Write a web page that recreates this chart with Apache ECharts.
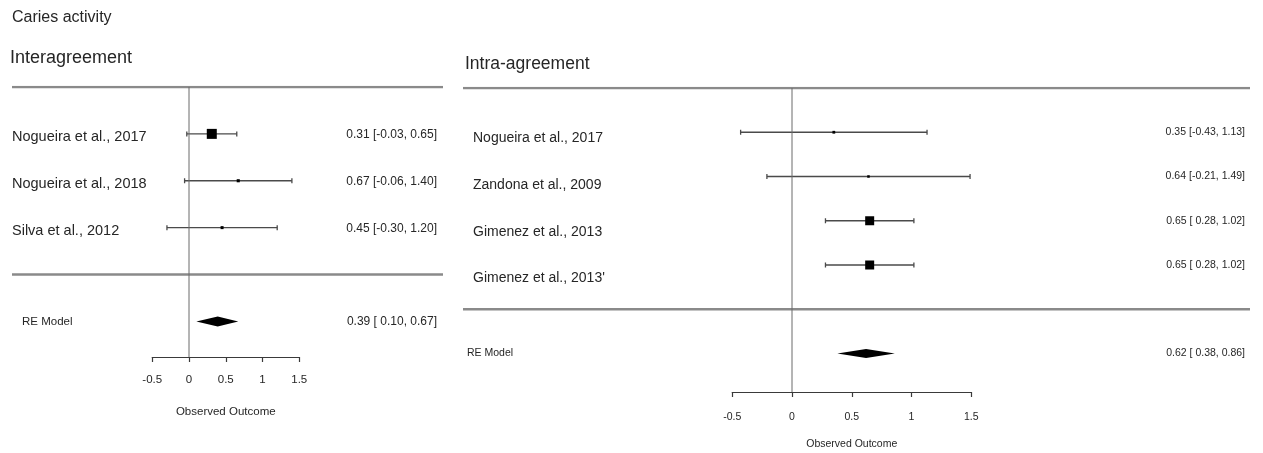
<!DOCTYPE html>
<html>
<head>
<meta charset="utf-8">
<script src="https://cdn.jsdelivr.net/npm/echarts@6/dist/echarts.min.js"></script>
<style>
  html, body { margin: 0; padding: 0; background: #fff; }
  #chart { width: 1263px; height: 453px; }
</style>
</head>
<body>
<div id="chart"></div>
<script>
// Caries activity: inter- and intra-examiner agreement forest plots

const axisTicks = [-0.5, 0, 0.5, 1, 1.5];

// Interagreement studies
const interStudies = ['Nogueira et al., 2017', 'Nogueira et al., 2018', 'Silva et al., 2012'];
const interEst = [0.31, 0.67, 0.45];
const interLo = [-0.03, -0.06, -0.30];
const interHi = [0.65, 1.40, 1.20];
const interModel = [0.39, 0.10, 0.67]; // estimate, lower, upper

// Intra-agreement studies
const intraStudies = ['Nogueira et al., 2017', 'Zandona et al., 2009', 'Gimenez et al., 2013', "Gimenez et al., 2013'"];
const intraEst = [0.35, 0.64, 0.65, 0.65];
const intraLo = [-0.43, -0.21, 0.28, 0.28];
const intraHi = [1.13, 1.49, 1.02, 1.02];
const intraModel = [0.62, 0.38, 0.86];

const SANS = "'Liberation Sans', Arial, sans-serif";
const TEXT = '#262626';

function fmtCI(est, lo, hi) {
  const l = lo < 0 ? lo.toFixed(2) : ' ' + lo.toFixed(2);
  return est.toFixed(2) + ' [' + l + ', ' + hi.toFixed(2) + ']';
}

// Layout of each panel (pixels)
const panels = [
  {
    studies: interStudies, est: interEst, lo: interLo, hi: interHi, model: interModel,
    zeroPx: 189, ppu: 73.5, lineLeft: 12, lineRight: 443,
    top: 87, axisY: 357, ymin: -1.76,
    nameX: 12, nameDy: 3, nameStep: 0, nameSize: 14.5,
    valX: 437, valDy: 1, valSize: 12,
    reX: 22, reSize: 11.5,
    axisSize: 11.5, labelMargin: 17, nameGap: 49,
    minPt: 3, maxPt: 10, diamondH: 5
  },
  {
    studies: intraStudies, est: intraEst, lo: intraLo, hi: intraHi, model: intraModel,
    zeroPx: 792, ppu: 119.5, lineLeft: 463, lineRight: 1250,
    top: 88, axisY: 392, ymin: -1.87,
    nameX: 473, nameDy: 6, nameStep: 2.5, nameSize: 14,
    valX: 1245, valDy: 0, valSize: 10.5,
    reX: 467, reSize: 10.5,
    axisSize: 10.5, labelMargin: 20, nameGap: 47,
    minPt: 2.5, maxPt: 9, diamondH: 4.5
  }
];

const grid = [], xAxis = [], yAxis = [], series = [];

panels.forEach(function (p) {
  const k = p.studies.length;
  const xmin = (p.lineLeft - p.zeroPx) / p.ppu;
  const xmax = (p.lineRight - p.zeroPx) / p.ppu;
  const ymax = k + 1;
  const wide = grid.length;

  // main plotting area spanning the full panel width
  grid.push({ left: p.lineLeft, top: p.top, width: p.lineRight - p.lineLeft, height: p.axisY - p.top });
  xAxis.push({ gridIndex: wide, type: 'value', min: xmin, max: xmax, show: false });
  yAxis.push({ gridIndex: wide, type: 'value', min: p.ymin, max: ymax, show: false });

  // visible x axis covering only the tick range
  const ax = grid.length;
  const aMin = axisTicks[0], aMax = axisTicks[axisTicks.length - 1];
  grid.push({ left: p.zeroPx + aMin * p.ppu, width: (aMax - aMin) * p.ppu, top: p.axisY - 20, height: 20 });
  xAxis.push({
    gridIndex: ax, type: 'value', min: aMin, max: aMax, interval: axisTicks[1] - axisTicks[0],
    splitLine: { show: false },
    axisLine: { show: true, lineStyle: { color: '#3a3a3a', width: 1.2 } },
    axisTick: { show: true, length: 5, lineStyle: { color: '#3a3a3a', width: 1.2 } },
    axisLabel: { color: TEXT, fontFamily: SANS, fontSize: p.axisSize, margin: p.labelMargin },
    name: 'Observed Outcome', nameLocation: 'middle', nameGap: p.nameGap,
    nameTextStyle: { color: TEXT, fontFamily: SANS, fontSize: p.axisSize }
  });
  yAxis.push({ gridIndex: ax, type: 'value', show: false, min: 0, max: 1 });

  const rows = p.studies.map(function (_, i) { return k - i; });

  // separator lines above the studies and above the summary row
  [ymax, 0].forEach(function (yy) {
    series.push({
      type: 'line', xAxisIndex: wide, yAxisIndex: wide, symbol: 'none', silent: true,
      lineStyle: { color: '#8a8a8a', width: 2.4 },
      data: [[xmin, yy], [xmax, yy]]
    });
  });

  // reference line at zero
  series.push({
    type: 'line', xAxisIndex: wide, yAxisIndex: wide, symbol: 'none', silent: true,
    lineStyle: { color: '#6a6a6a', width: 1 },
    data: [[0, ymax], [0, p.ymin]]
  });

  // confidence intervals with end whiskers
  series.push({
    type: 'custom', xAxisIndex: wide, yAxisIndex: wide, silent: true,
    data: rows.map(function (r, i) { return [p.lo[i], p.hi[i], r]; }),
    renderItem: function (params, api) {
      const a = api.coord([api.value(0), api.value(2)]);
      const b = api.coord([api.value(1), api.value(2)]);
      const st = { stroke: '#4a4a4a', lineWidth: 1.3 };
      return {
        type: 'group', children: [
          { type: 'line', shape: { x1: a[0], y1: a[1], x2: b[0], y2: b[1] }, style: st },
          { type: 'line', shape: { x1: a[0], y1: a[1] - 2.5, x2: a[0], y2: a[1] + 2.5 }, style: st },
          { type: 'line', shape: { x1: b[0], y1: b[1] - 2.5, x2: b[0], y2: b[1] + 2.5 }, style: st }
        ]
      };
    }
  });

  // point estimates, box size scaled by inverse-variance weight
  const w = p.lo.map(function (lo, i) { const se = (p.hi[i] - lo) / 3.92; return 1 / (se * se); });
  const wMin = Math.min.apply(null, w), wMax = Math.max.apply(null, w);
  series.push({
    type: 'scatter', xAxisIndex: wide, yAxisIndex: wide, silent: true, symbol: 'rect',
    itemStyle: { color: '#000', opacity: 1 },
    data: rows.map(function (r, i) {
      const s = p.minPt + (p.maxPt - p.minPt) * (w[i] - wMin) / (wMax - wMin);
      return { value: [p.est[i], r], symbolSize: s };
    })
  });

  // summary diamond
  series.push({
    type: 'custom', xAxisIndex: wide, yAxisIndex: wide, silent: true,
    data: [[p.model[1], p.model[0], p.model[2], -1]],
    renderItem: function (params, api) {
      const y = api.value(3);
      const l = api.coord([api.value(0), y]);
      const c = api.coord([api.value(1), y]);
      const r = api.coord([api.value(2), y]);
      return {
        type: 'polygon',
        shape: { points: [l, [c[0], c[1] - p.diamondH], r, [c[0], c[1] + p.diamondH]] },
        style: { fill: '#000' }
      };
    }
  });

  // study labels and estimate text
  const labelRows = rows.concat([-1]);
  series.push({
    type: 'custom', xAxisIndex: wide, yAxisIndex: wide, silent: true,
    data: labelRows.map(function (r) { return [0, r]; }),
    renderItem: function (params, api) {
      const i = params.dataIndex;
      const y = api.coord([0, api.value(1)])[1];
      const isModel = i === k;
      const name = isModel ? 'RE Model' : p.studies[i];
      const txt = isModel ? fmtCI(p.model[0], p.model[1], p.model[2]) : fmtCI(p.est[i], p.lo[i], p.hi[i]);
      return {
        type: 'group', children: [
          {
            type: 'text', x: isModel ? p.reX : p.nameX,
            y: y + (isModel ? 0 : p.nameDy + p.nameStep * i),
            style: {
              text: name, fill: TEXT, verticalAlign: 'middle', align: 'left',
              font: (isModel ? p.reSize : p.nameSize) + 'px ' + SANS
            }
          },
          {
            type: 'text', x: p.valX, y: y + (isModel ? 0 : p.valDy),
            style: {
              text: txt, fill: TEXT, verticalAlign: 'middle', align: 'right',
              font: p.valSize + 'px ' + SANS
            }
          }
        ]
      };
    }
  });
});

const chart = echarts.init(document.getElementById('chart'), null, { renderer: 'canvas' });
chart.setOption({
  animation: false,
  backgroundColor: '#ffffff',
  title: [
    { text: 'Caries activity', left: 12, top: 10, padding: 0, textStyle: { fontFamily: SANS, fontSize: 16, fontWeight: 'normal', color: TEXT } },
    { text: 'Interagreement', left: 10, top: 49, padding: 0, textStyle: { fontFamily: SANS, fontSize: 18, fontWeight: 'normal', color: TEXT } },
    { text: 'Intra-agreement', left: 465, top: 55, padding: 0, textStyle: { fontFamily: SANS, fontSize: 17.5, fontWeight: 'normal', color: TEXT } }
  ],
  grid: grid,
  xAxis: xAxis,
  yAxis: yAxis,
  series: series
});
</script>
</body>
</html>
